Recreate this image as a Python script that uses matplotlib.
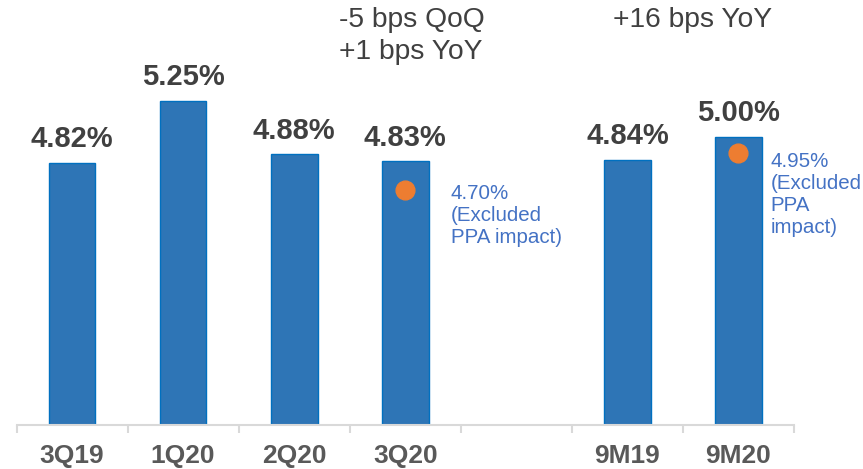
import matplotlib
matplotlib.use('Agg')
from matplotlib import pyplot

# data
categories = ['3Q19', '1Q20', '2Q20', '3Q20', '', '9M19', '9M20']
nim = [4.82, 5.25, 4.88, 4.83, None, 4.84, 5.00]
ppa_cats = ['3Q20', '9M20']
ppa_dots = [4.63, 4.89]          # where the orange dots sit in the picture
ppa_labels = ['4.70%\n(Excluded\nPPA impact)', '4.95%\n(Excluded\nPPA\nimpact)']
headers = ['-5 bps QoQ\n+1 bps YoY', '+16 bps YoY']

# where the blue notes start (category offset, value of top edge)
note_pos = [(0.41, 4.675), (0.29, 4.895)]

pyplot.rcParams['font.family'] = ['Liberation Sans', 'DejaVu Sans']

if __name__ == '__main__':
    fig = pyplot.figure(figsize=(8.63, 4.69), dpi=100)
    ax = fig.add_axes([16.5 / 863, 44 / 469, (794 - 16.5) / 863, 425 / 469])

    xs = [i for i, v in enumerate(nim) if v is not None]
    vals = [v for v in nim if v is not None]
    ax.bar(xs, vals, width=0.42, bottom=0, color='#2E75B6',
           edgecolor='#0070C0', linewidth=1.0, zorder=2)
    for x, v in zip(xs, vals):
        ax.annotate(f'{v:.2f}%', (x, v), xytext=(0, 7), textcoords='offset points',
                    ha='center', va='bottom', fontsize=21, fontweight='bold',
                    color='#404040')

    for c, d, lab, (dx, ty) in zip(ppa_cats, ppa_dots, ppa_labels, note_pos):
        x = categories.index(c)
        ax.plot(x, d, 'o', color='#ED7D31', markersize=13.5, zorder=3)
        ax.text(x + dx, ty, lab, ha='left', va='top', fontsize=14.8,
                color='#4472C4', linespacing=1.2, clip_on=False)

    # header notes above the chart
    fig.text(339 / 863, 1 - 7 / 469, headers[0], ha='left', va='top',
             fontsize=20.3, color='#404040', linespacing=1.3)
    fig.text(613 / 863, 1 - 7 / 469, headers[1], ha='left', va='top',
             fontsize=20.3, color='#404040')

    ax.set_xlim(-0.5, len(categories) - 0.5)
    ax.set_ylim(3.0, 3.0 + 425 / 144)
    ax.set_xticks(range(len(categories)))
    ax.set_xticklabels(categories, fontsize=19, fontweight='bold', color='#595959')
    ax.set_xticks([i - 0.5 for i in range(len(categories) + 1)], minor=True)
    ax.tick_params(axis='x', which='major', length=0, pad=13.5)
    ax.tick_params(axis='x', which='minor', length=6, width=1.5, color='#D9D9D9')
    ax.set_yticks([])
    for s in ['top', 'right', 'left']:
        ax.spines[s].set_visible(False)
    ax.spines['bottom'].set_color('#D9D9D9')
    ax.spines['bottom'].set_linewidth(1.5)
    ax.patch.set_alpha(0)

    fig.savefig('out.png', dpi=100)
